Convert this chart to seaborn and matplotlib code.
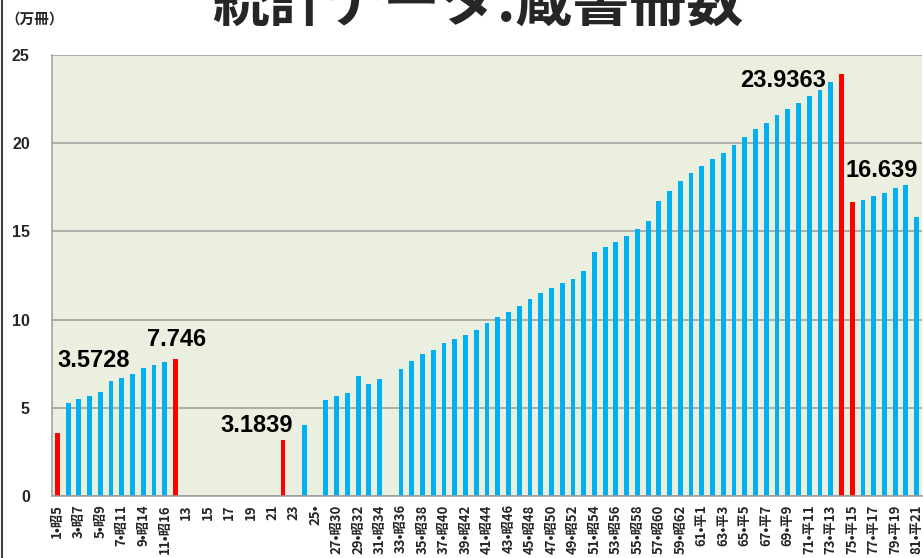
import numpy as np
import pandas as pd
import matplotlib
matplotlib.use("Agg")
import matplotlib.pyplot as plt
import seaborn as sns
from matplotlib.lines import Line2D

# ---------------- data ----------------
title = "統計データ:蔵書冊数"
unit_label = "（万冊）"

nan = float("nan")
years = list(range(1, 82))
values = [
    3.5728, 5.29, 5.48, 5.65, 5.90, 6.54, 6.67, 6.92, 7.26, 7.43,      # 1-10
    7.61, 7.746, nan, nan, nan, nan, nan, nan, nan, nan,               # 11-20
    nan, 3.1839, nan, 4.04, nan, 5.46, 5.65, 5.86, 6.80, 6.35,         # 21-30
    6.61, nan, 7.20, 7.67, 8.05, 8.29, 8.67, 8.90, 9.11, 9.41,         # 31-40
    9.83, 10.13, 10.41, 10.75, 11.19, 11.51, 11.79, 12.07, 12.30, 12.76,  # 41-50
    13.81, 14.13, 14.38, 14.74, 15.12, 15.61, 16.71, 17.31, 17.86, 18.29,  # 51-60
    18.69, 19.08, 19.46, 19.90, 20.33, 20.79, 21.15, 21.58, 21.94, 22.30,  # 61-70
    22.66, 23.03, 23.45, 23.9363, 16.639, 16.80, 17.01, 17.19, 17.44, 17.65,  # 71-80
    15.83,                                                              # 81
]
highlight_years = [1, 12, 22, 74, 75]

odd_labels = [
    "1•昭5", "3•昭7", "5•昭9", "7•昭11", "9•昭14", "11•昭16", "13", "15",
    "17", "19", "21", "23", "25•", "27•昭30", "29•昭32", "31•昭34",
    "33•昭36", "35•昭38", "37•昭40", "39•昭42", "41•昭44", "43•昭46",
    "45•昭48", "47•昭50", "49•昭52", "51•昭54", "53•昭56", "55•昭58",
    "57•昭60", "59•昭62", "61•平1", "63•平3", "65•平5", "67•平7", "69•平9",
    "71•平11", "73•平13", "75•平15", "77•平17", "79•平19", "81•平21",
]
y_ticks = [0, 5, 10, 15, 20, 25]

# label offsets (pixels) relative to the top of the highlighted bar
label_offsets_px = {1: (36, 66), 12: (1, 13), 22: (-26, 8), 74: (-58, -13), 75: (30, 25)}

# ---------------- build table ----------------
order = [str(y) for y in years]
df = pd.DataFrame({"year": order, "value": values})
df["group"] = np.where(df["year"].astype(int).isin(highlight_years), "hi", "normal")
df_plot = df.dropna(subset=["value"])

xlabels = []
it = iter(odd_labels)
for y in years:
    xlabels.append(next(it) if y % 2 == 1 else "")

# ---------------- figure ----------------
sns.set_style("white")
plt.rcParams["font.family"] = ["Noto Sans CJK JP", "DejaVu Sans"]

W, H = 923, 558
fig = plt.figure(figsize=(W / 100, H / 100), dpi=100)
fig.patch.set_facecolor("white")
ax = fig.add_axes([52 / W, (H - 496) / H, (922 - 52) / W, (496 - 55) / H])
ax.set_facecolor("#EBEFDF")

sns.barplot(
    data=df_plot, x="year", y="value", hue="group", order=order,
    hue_order=["normal", "hi"], palette={"normal": "#00B0F0", "hi": "#FF0000"},
    dodge=False, width=0.45, saturation=1, legend=False, ax=ax,
    edgecolor="none", linewidth=0,
)

ax.set_xlim(-0.5, len(years) - 0.5)
ax.set_ylim(0, 25)
ax.set_yticks(y_ticks)
ax.set_yticklabels([str(t) for t in y_ticks], fontfamily="Liberation Sans",
                   fontweight="bold", fontsize=11.5)
ax.yaxis.grid(True, color="#9C9C9C", linewidth=1.1)
ax.set_axisbelow(True)
ax.tick_params(axis="y", length=7, width=1, color="#9C9C9C", pad=9)

ax.set_xticks(range(len(years)))
ax.set_xticklabels(xlabels, rotation=90, fontsize=9.5, fontweight="bold",
                   family=["Noto Sans CJK JP", "DejaVu Sans"])
ax.tick_params(axis="x", which="major", length=0, pad=6)
ax.set_xticks(np.arange(-0.5, len(years), 1), minor=True)
ax.tick_params(axis="x", which="minor", length=4, width=1, color="#9C9C9C")
ax.set_xlabel("")
ax.set_ylabel("")

for s in ["top", "right"]:
    ax.spines[s].set_visible(False)
for s in ["left", "bottom"]:
    ax.spines[s].set_color("#9C9C9C")
    ax.spines[s].set_linewidth(1.1)

# value labels on highlighted bars
for y in highlight_years:
    v = values[y - 1]
    dx, dy = label_offsets_px[y]
    ax.annotate(str(v), xy=(y - 1, v), xytext=(dx * 0.72, dy * 0.72),
                textcoords="offset points", ha="center", va="baseline",
                fontsize=17, fontweight="bold", fontfamily="Liberation Sans",
                color="black")

# title and unit (title partly cropped at top, as in the reference)
fig.text(478 / W, 1 - 5 / H, title, ha="center", va="center", fontsize=41,
         fontweight="bold", family=["Noto Sans CJK JP", "DejaVu Sans"])
fig.text(5 / W, 1 - 19 / H, unit_label, ha="left", va="center", fontsize=10.5,
         fontweight="bold", family=["Noto Sans CJK JP", "DejaVu Sans"])

# left frame line
fig.add_artist(Line2D([1.5 / W, 1.5 / W], [0, 1], transform=fig.transFigure,
                      color="#404040", linewidth=1.5))

fig.savefig("out.png", dpi=100)
